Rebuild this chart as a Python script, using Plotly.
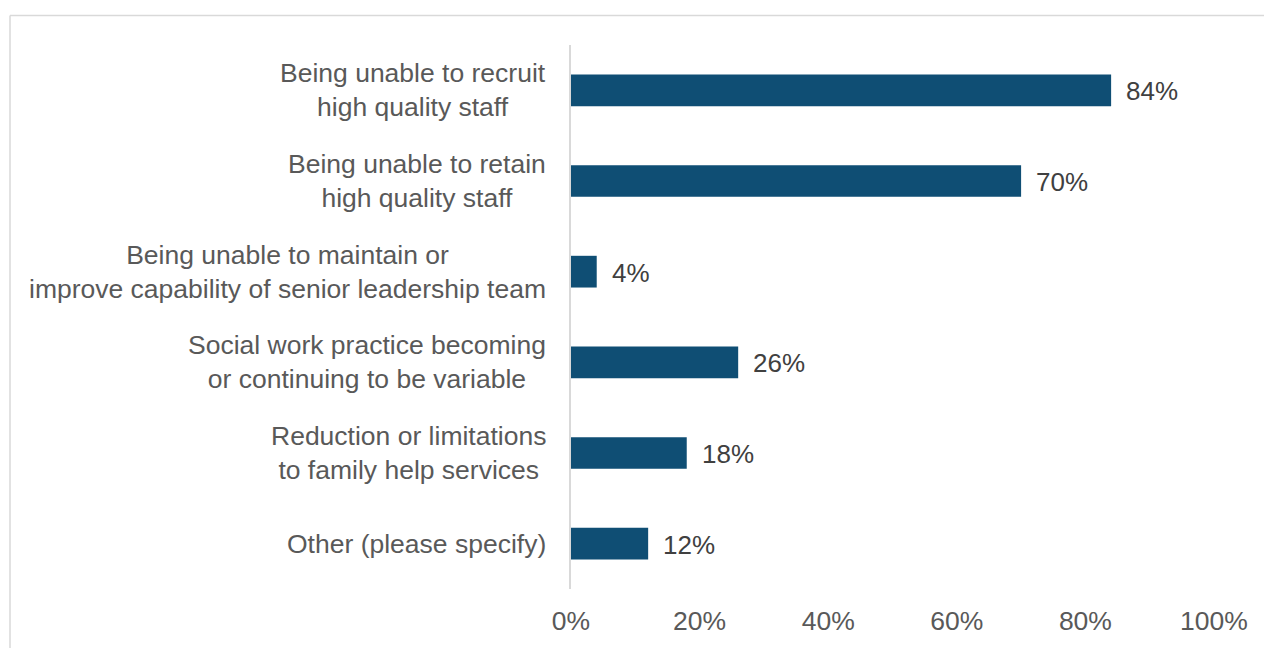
import plotly.graph_objects as go

# Survey: biggest risks anticipated (share of respondents)
categories = [
    "Being unable to recruit<br>high quality staff",
    "Being unable to retain<br>high quality staff",
    "Being unable to maintain or<br>improve capability of senior leadership team",
    "Social work practice becoming<br>or continuing to be variable",
    "Reduction or limitations<br>to family help services",
    "Other (please specify)",
]
values = [84, 70, 4, 26, 18, 12]
tick_values = [0, 20, 40, 60, 80, 100]
tick_labels = ["0%", "20%", "40%", "60%", "80%", "100%"]

BAR_COLOR = "#0F4E74"
LABEL_COLOR = "#595959"
VALUE_COLOR = "#404040"
FONT = "Liberation Sans, Arial, sans-serif"

fig = go.Figure(
    go.Bar(
        x=values,
        y=categories,
        orientation="h",
        marker=dict(color=BAR_COLOR, line=dict(width=0)),
        hoverinfo="skip",
    )
)

annotations = []
# category labels: centred block, right-aligned next to the axis
for cat in categories:
    annotations.append(dict(
        x=-0.036, xref="paper", y=cat, yref="y",
        text=cat, showarrow=False, xanchor="right", yanchor="middle",
        align="center", font=dict(family=FONT, size=26.5, color=LABEL_COLOR),
    ))
# value labels just past the end of each bar
for cat, v in zip(categories, values):
    annotations.append(dict(
        x=v, xref="x", y=cat, yref="y",
        text=f"{v}%", showarrow=False, xanchor="left", yanchor="middle",
        xshift=13, yshift=-1, font=dict(family=FONT, size=26, color=VALUE_COLOR),
    ))

# pixel -> paper conversion for the outer frame
L, R, T, B = 571, 1214, 45, 596
def px(xpix):
    return (xpix - L) / (R - L)
def py(ypix):
    return (B - ypix) / (B - T)

frame = dict(color="#D9D9D9", width=1.5)
shapes = [
    dict(type="line", xref="paper", yref="paper",
         x0=px(10), x1=px(1270), y0=py(15), y1=py(15), line=frame),
    dict(type="line", xref="paper", yref="paper",
         x0=px(10), x1=px(10), y0=py(15), y1=py(660), line=frame),
]

fig.update_layout(
    width=1264, height=648,
    margin=dict(l=L, r=1264 - R, t=T, b=648 - B),
    paper_bgcolor="white", plot_bgcolor="white",
    bargap=0.65,
    showlegend=False,
    font=dict(family=FONT, color=LABEL_COLOR),
    annotations=annotations,
    shapes=shapes,
    xaxis=dict(
        range=[0, 100], tickvals=tick_values, ticktext=tick_labels,
        showgrid=False, zeroline=False, showline=False, ticks="",
        tickfont=dict(family=FONT, size=26.5, color=LABEL_COLOR),
        ticklabelstandoff=13, fixedrange=True,
    ),
    yaxis=dict(
        categoryorder="array", categoryarray=categories, autorange="reversed",
        showticklabels=False, showgrid=False, zeroline=False,
        showline=True, linecolor="#D9D9D9", linewidth=2, ticks="",
        fixedrange=True,
    ),
)

fig.write_html("out.html", config={"displayModeBar": False})
